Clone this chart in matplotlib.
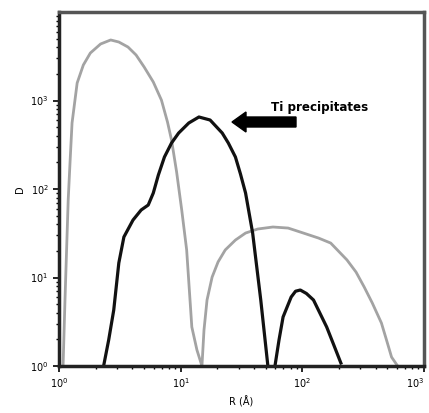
import numpy as np
import matplotlib.pyplot as plt
from matplotlib.patches import FancyArrow

# matrix (gray) distribution, first and second hump
gray_r = [1.08, 1.12, 1.19, 1.235, 1.28, 1.41, 1.585, 1.81, 2.196, 2.66, 3.102, 3.69, 4.30, 5.01, 5.957,
          6.95, 7.794, 8.41, 9.26, 10.2, 11.2, 12.35, 13.6, 14.96,
          15.55, 16.47, 18.13, 20.3, 23.26, 28.2, 34.15, 43.0, 57.3, 76.4, 101.9, 135.9, 171.1, 232.6,
          276.5, 322.4, 375.8, 446.7, 491.7, 541.2, 607.4]
gray_d = [1.0, 5.6, 75, 213, 557, 1577, 2518, 3440, 4349, 4830, 4581, 4020, 3267, 2390, 1618,
          1010, 571, 358, 156, 58, 20.5, 2.76, 1.52, 1.0,
          2.55, 5.57, 10.1, 15.0, 20.5, 26.5, 31.8, 35.3, 37.2, 36.2, 31.8, 27.9, 24.5, 15.8,
          11.5, 7.81, 5.15, 3.06, 1.97, 1.26, 1.0]

# Ti precipitates (black)
ti_r = [2.326, 2.561, 2.818, 3.102, 3.415, 4.058, 4.732, 5.412, 5.957, 6.556, 7.356, 8.414, 9.623,
        11.66, 14.13, 17.45, 21.96, 24.64, 28.18, 31.0, 34.15, 39.05, 45.53, 52.1]
ti_d = [1.0, 1.97, 4.29, 14.6, 28.7, 44.6, 57.9, 65.9, 90.1, 143.9, 230, 331, 429,
        557, 651, 602, 429, 331, 230, 148, 90.1, 31.8, 5.57, 1.0]

ti2_r = [59.57, 64.32, 69.46, 80.97, 88.0, 96.2, 108.0, 123.5, 158.5, 181.3, 207.4]
ti2_d = [1.0, 1.97, 3.58, 6.02, 7.0, 7.22, 6.6, 5.57, 2.76, 1.73, 1.08]

fig = plt.figure(figsize=(4.29, 4.13), dpi=100)
ax = fig.add_axes([59/429, 47/413, 365/429, 354/413])

ax.plot(gray_r, gray_d, color='#a3a3a3', lw=2)
ax.plot(ti_r, ti_d, color='#111111', lw=2.3)
ax.plot(ti2_r, ti2_d, color='#111111', lw=2.3)

ax.set_xscale('log')
ax.set_yscale('log')
ax.set_xlim(1, 1000)
ax.set_ylim(1, 10000)
ax.set_xticks([1, 10, 100, 1000])
ax.set_xticklabels([r'$10^0$', r'$10^1$', r'$10^2$', r'$10^3$'])
ax.set_yticks([1, 10, 100, 1000])
ax.set_yticklabels([r'$10^0$', r'$10^1$', r'$10^2$', r'$10^3$'])
ax.tick_params(which='major', direction='out', length=4, width=1.2, labelsize=7)
ax.tick_params(which='minor', direction='out', length=2.5, width=1)
ax.get_xticklabels()[-1].set_horizontalalignment('right')

ax.spines['left'].set_linewidth(2.5)
ax.spines['bottom'].set_linewidth(2.5)
ax.spines['left'].set_color('#222222')
ax.spines['bottom'].set_color('#222222')
for s in ['top', 'right']:
    ax.spines[s].set_linewidth(2.5)
    ax.spines[s].set_color('#555555')

ax.set_xlabel('R (Å)', fontsize=7, labelpad=4)
ax.set_ylabel('D', fontsize=7, labelpad=4)

fig.text(320/429, 1 - 107/413, 'Ti precipitates', fontsize=8.6, fontweight='bold',
         ha='center', va='center')
arr = FancyArrow(296/429, 1 - 122/413, -64/429, 0, width=10/413, head_width=20/413,
                 head_length=14/429, length_includes_head=True, color='black',
                 transform=fig.transFigure)
fig.patches.append(arr)

fig.savefig('out.png', dpi=100)
